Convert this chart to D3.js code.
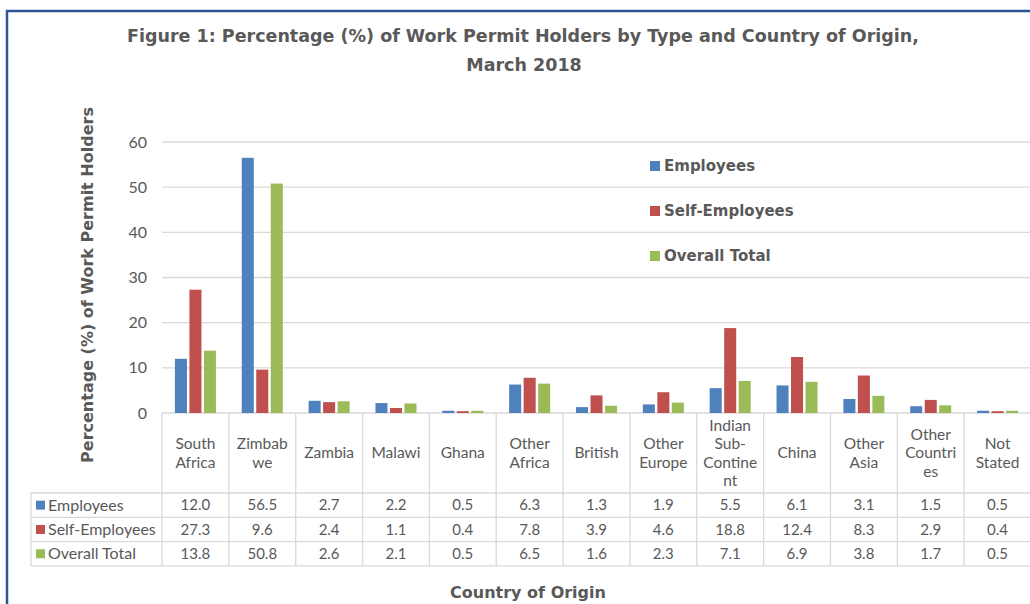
<!DOCTYPE html>
<html>
<head>
<meta charset="utf-8">
<script src="https://cdn.jsdelivr.net/npm/d3@7"></script>
<style>
  body { margin: 0; background: #fff; }
  text { font-family: Lato, "DejaVu Sans", sans-serif; fill: #595959; }
  text.bold { font-family: "DejaVu Sans", sans-serif; font-weight: bold; }
</style>
</head>
<body>
<div id="chart"></div>
<script>
const categories = ["South\nAfrica", "Zimbab\nwe", "Zambia", "Malawi", "Ghana", "Other\nAfrica",
  "British", "Other\nEurope", "Indian\nSub-\nContine\nnt", "China", "Other\nAsia", "Other\nCountri\nes", "Not\nStated"];
const seriesNames = ["Employees", "Self-Employees", "Overall Total"];
const employees     = [12.0, 56.5, 2.7, 2.2, 0.5, 6.3, 1.3, 1.9, 5.5, 6.1, 3.1, 1.5, 0.5];
const selfEmployees = [27.3, 9.6, 2.4, 1.1, 0.4, 7.8, 3.9, 4.6, 18.8, 12.4, 8.3, 2.9, 0.4];
const overallTotal  = [13.8, 50.8, 2.6, 2.1, 0.5, 6.5, 1.6, 2.3, 7.1, 6.9, 3.8, 1.7, 0.5];
const yTicks = [0, 10, 20, 30, 40, 50, 60];
const colors = ["#4f81bd", "#c0504d", "#9bbb59"];

const series = [employees, selfEmployees, overallTotal];

var W = 1030, H = 604,
    plotLeft = 162, plotRight = 1031,
    yTop = 142, yBase = 413,
    headerBottom = 493, rowH = 24.3,
    tableLeft = 31;

var svg = d3.select("#chart").append("svg")
    .attr("width", W)
    .attr("height", H);

// frame
svg.append("rect")
    .attr("x", 7).attr("y", 11)
    .attr("width", 1100).attr("height", 700)
    .attr("fill", "none")
    .attr("stroke", "#2f5496")
    .attr("stroke-width", 2.5);

var x = d3.scaleBand()
    .domain(d3.range(categories.length))
    .range([plotLeft, plotRight]);

var xInner = d3.scaleBand()
    .domain(d3.range(series.length))
    .range([0, x.bandwidth()])
    .paddingInner(0.17)
    .paddingOuter(0.89);

var y = d3.scaleLinear()
    .domain([0, 60])
    .range([yBase, yTop]);

// gridlines
svg.append("g").selectAll("line")
    .data(yTicks)
    .enter().append("line")
    .attr("x1", plotLeft).attr("x2", plotRight)
    .attr("y1", d => y(d)).attr("y2", d => y(d))
    .attr("stroke", "#d9d9d9")
    .attr("stroke-width", 1.3);

// y tick labels
svg.append("g").selectAll("text")
    .data(yTicks)
    .enter().append("text")
    .attr("x", 147)
    .attr("y", d => y(d))
    .attr("dy", "0.35em")
    .attr("text-anchor", "end")
    .style("font-size", "16px")
    .text(d => d);

// bars
var groups = svg.append("g").selectAll("g")
    .data(series)
    .enter().append("g")
    .attr("fill", (d, i) => colors[i]);

groups.each(function(vals, s) {
  d3.select(this).selectAll("rect")
    .data(vals)
    .enter().append("rect")
    .attr("x", (d, i) => x(i) + xInner(s))
    .attr("y", d => y(d))
    .attr("width", xInner.bandwidth())
    .attr("height", d => yBase - y(d));
});

// data table
var table = svg.append("g");
var gridColor = "#d9d9d9";

// vertical lines of category columns
table.selectAll("line.v")
    .data(d3.range(categories.length + 1))
    .enter().append("line")
    .attr("class", "v")
    .attr("x1", i => i < categories.length ? x(i) : plotRight)
    .attr("x2", i => i < categories.length ? x(i) : plotRight)
    .attr("y1", yBase)
    .attr("y2", headerBottom + rowH * 3)
    .attr("stroke", gridColor).attr("stroke-width", 1.3);

// left border of legend column
table.append("line")
    .attr("x1", tableLeft).attr("x2", tableLeft)
    .attr("y1", headerBottom).attr("y2", headerBottom + rowH * 3)
    .attr("stroke", gridColor).attr("stroke-width", 1.3);

// horizontal rows
table.selectAll("line.h")
    .data(d3.range(4))
    .enter().append("line")
    .attr("class", "h")
    .attr("x1", tableLeft).attr("x2", plotRight)
    .attr("y1", i => headerBottom + i * rowH)
    .attr("y2", i => headerBottom + i * rowH)
    .attr("stroke", gridColor).attr("stroke-width", 1.3);

// header labels
var lineH = 18.5, headerMid = (yBase + headerBottom) / 2;
table.selectAll("text.cat")
    .data(categories)
    .enter().append("text")
    .attr("class", "cat")
    .attr("text-anchor", "middle")
    .style("font-size", "15.5px")
    .each(function(d, i) {
      var lines = d.split("\n");
      var t = d3.select(this);
      lines.forEach(function(l, k) {
        t.append("tspan")
          .attr("x", x(i) + x.bandwidth() / 2)
          .attr("y", headerMid + (k - (lines.length - 1) / 2) * lineH)
          .attr("dy", "0.35em")
          .text(l);
      });
    });

// rows
series.forEach(function(vals, s) {
  var cy = headerBottom + rowH * s + rowH / 2;
  table.append("rect")
      .attr("x", 36).attr("y", cy - 4.5)
      .attr("width", 9).attr("height", 9)
      .attr("fill", colors[s]);
  table.append("text")
      .attr("x", 48).attr("y", cy).attr("dy", "0.35em")
      .style("font-size", "16px")
      .text(seriesNames[s]);
  table.append("g").selectAll("text")
      .data(vals)
      .enter().append("text")
      .attr("x", (d, i) => x(i) + x.bandwidth() / 2)
      .attr("y", cy).attr("dy", "0.35em")
      .attr("text-anchor", "middle")
      .style("font-size", "15px")
      .text(d => d3.format(".1f")(d));
});

// legend
var legend = svg.append("g").selectAll("g")
    .data(seriesNames)
    .enter().append("g")
    .attr("transform", (d, i) => "translate(650," + (166 + i * 45) + ")");
legend.append("rect")
    .attr("x", 0).attr("y", -5)
    .attr("width", 10).attr("height", 10)
    .attr("fill", (d, i) => colors[i]);
legend.append("text")
    .attr("class", "bold")
    .attr("x", 14).attr("dy", "0.35em")
    .style("font-size", "15px")
    .text(d => d);

// titles
svg.append("text")
    .attr("class", "bold")
    .attr("x", 523).attr("y", 42)
    .attr("text-anchor", "middle")
    .style("font-size", "17.5px")
    .text("Figure 1: Percentage (%) of Work Permit Holders by Type and Country of Origin,");
svg.append("text")
    .attr("class", "bold")
    .attr("x", 524).attr("y", 71)
    .attr("text-anchor", "middle")
    .style("font-size", "17.5px")
    .text("March 2018");

svg.append("text")
    .attr("class", "bold")
    .attr("transform", "translate(93,285) rotate(-90)")
    .attr("text-anchor", "middle")
    .style("font-size", "16px")
    .text("Percentage (%) of Work Permit Holders");

svg.append("text")
    .attr("class", "bold")
    .attr("x", 528).attr("y", 598)
    .attr("text-anchor", "middle")
    .style("font-size", "16px")
    .text("Country of Origin");
</script>
</body>
</html>
